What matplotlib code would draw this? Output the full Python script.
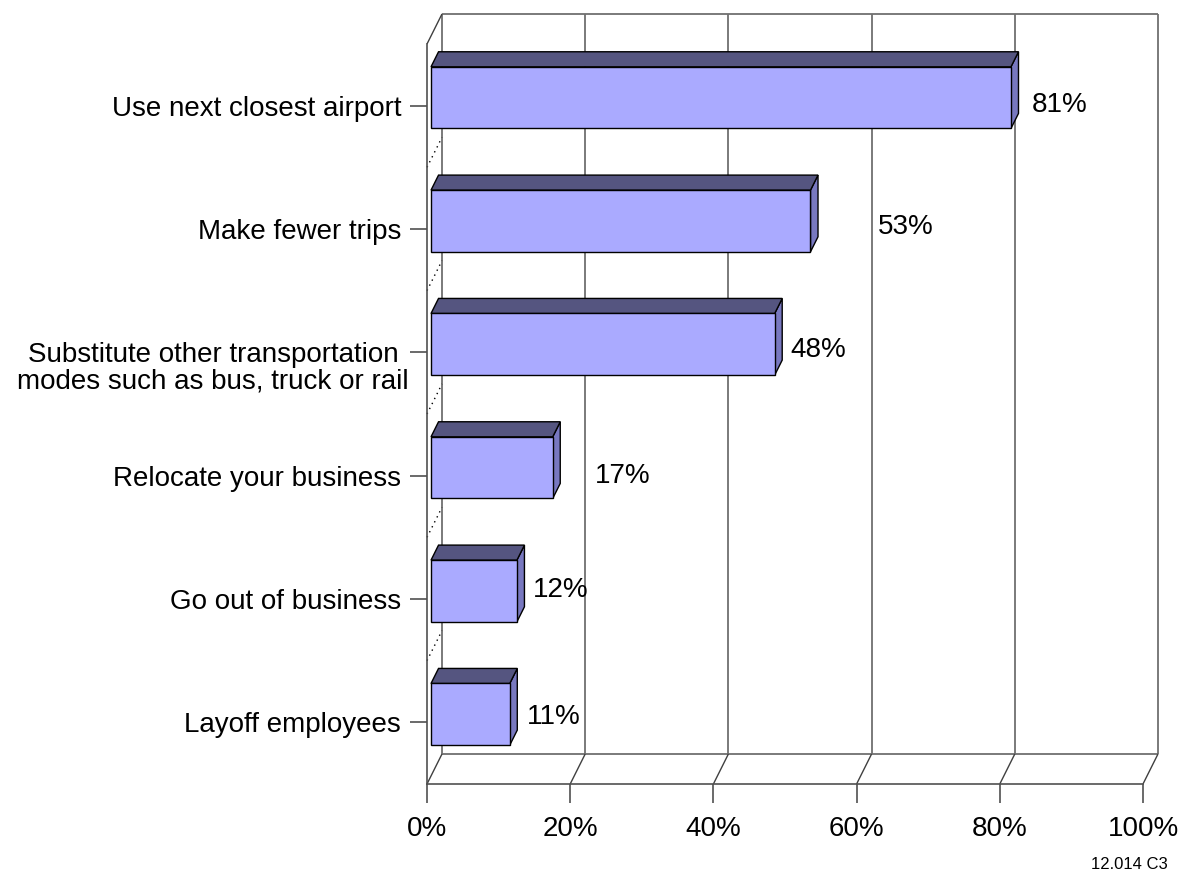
import matplotlib
matplotlib.use("Agg")
import matplotlib.pyplot as plt
from matplotlib.patches import Polygon
from matplotlib.transforms import ScaledTranslation

plt.rcParams['font.family'] = ['Liberation Sans', 'DejaVu Sans']

categories = ["Use next closest airport",
              "Make fewer trips",
              "Substitute other transportation\nmodes such as bus, truck or rail",
              "Relocate your business",
              "Go out of business",
              "Layoff employees"]
values = [81, 53, 48, 17, 12, 11]
value_labels = ["81%", "53%", "48%", "17%", "12%", "11%"]
xticks = [0, 20, 40, 60, 80, 100]
xtick_labels = ["0%", "20%", "40%", "60%", "80%", "100%"]

# where the value labels sit, relative to the bar end (x in %) and category (y)
label_dx = [3.5, 10.0, 2.7, 6.5, 2.8, 3.0]
label_dy = [-0.005, -0.015, -0.02, 0.005, -0.075, -0.04]

# depth offsets in data units (x in %, y in category units; y axis is inverted)
wall_dx, wall_dy = 2.095, 0.2435
bar_dx, bar_dy = 1.05, 0.122
bar_x0, bar_shift = 0.56, -0.065
bar_h = 0.5

front_col = "#aaaaff"
top_col = "#555580"
side_col = "#7878c0"
grid_col = "#707070"

fig = plt.figure(figsize=(11.8, 8.71), dpi=100)
ax = fig.add_axes([427 / 1180, 87 / 871, 716 / 1180, 740 / 871])
ax.set_xlim(0, 100)
ax.set_ylim(5.5, -0.5)

y_top, y_floor = -0.5, 5.5

def line(xs, ys, **kw):
    kw.setdefault("color", grid_col)
    kw.setdefault("lw", 1.3)
    ax.plot(xs, ys, clip_on=False, solid_capstyle="butt", **kw)

# back wall gridlines
for t in xticks:
    line([t + wall_dx, t + wall_dx], [y_floor - wall_dy, y_top - wall_dy], zorder=1)
# back wall top edge and floor back edge
line([wall_dx, 100 + wall_dx], [y_top - wall_dy] * 2, zorder=1)
line([wall_dx, 100 + wall_dx], [y_floor - wall_dy] * 2, zorder=1)
# floor diagonals
for t in xticks:
    line([t, t + wall_dx], [y_floor, y_floor - wall_dy], color="#404040", lw=1.0, zorder=1)
# left wall top diagonal
line([0, wall_dx], [y_top, y_top - wall_dy], color="#404040", lw=1.0, zorder=1)
# dotted category dividers on the left wall
for i in range(len(categories) - 1):
    line([0, wall_dx], [i + 0.5, i + 0.5 - wall_dy], color="black", lw=1.0,
         ls=(0, (1, 3)), zorder=1)

# bars: side and top faces, then the front faces
for i, v in enumerate(values):
    c = i + bar_shift
    top = c - bar_h / 2
    bot = c + bar_h / 2
    x1 = bar_x0 + v
    side = Polygon([(x1, bot), (x1, top), (x1 + bar_dx, top - bar_dy),
                    (x1 + bar_dx, bot - bar_dy)], closed=True,
                   facecolor=side_col, edgecolor="black", lw=1.0, zorder=3, clip_on=False)
    topf = Polygon([(bar_x0, top), (x1, top), (x1 + bar_dx, top - bar_dy),
                    (bar_x0 + bar_dx, top - bar_dy)], closed=True,
                   facecolor=top_col, edgecolor="black", lw=1.0, zorder=3, clip_on=False)
    ax.add_patch(side)
    ax.add_patch(topf)
ax.barh([i + bar_shift for i in range(len(values))], values, height=bar_h,
        left=bar_x0, color=front_col, edgecolor="black", lw=1.0, zorder=4)

for i, (v, lab) in enumerate(zip(values, value_labels)):
    ax.text(v + label_dx[i], i + label_dy[i], lab, fontsize=20,
            ha="left", va="center", zorder=5)

# front axis lines and ticks
for s in ["top", "right"]:
    ax.spines[s].set_visible(False)
for s in ["left", "bottom"]:
    ax.spines[s].set_color("#505050")
    ax.spines[s].set_linewidth(1.2)
    ax.spines[s].set_zorder(2)

ax.set_xticks(xticks)
ax.set_xticklabels(xtick_labels, fontsize=20)
ax.set_yticks(range(len(categories)))
ax.set_yticklabels(categories, fontsize=20, multialignment="center", linespacing=1.0)
ax.tick_params(axis="x", direction="out", length=13.7, width=1.2, color="#505050", pad=9)
ax.tick_params(axis="y", direction="out", length=12.2, width=1.2, color="#505050", pad=6.5)
ax.grid(False)

# two-line label hangs below its tick
for lab in ax.get_yticklabels():
    if "\n" in lab.get_text():
        lab.set_transform(lab.get_transform() + ScaledTranslation(0.08, -0.13, fig.dpi_scale_trans))

fig.text(1168 / 1180, 1 - 864 / 871, "12.014 C3", fontsize=12, ha="right", va="center")

fig.savefig("out.png", dpi=100)
